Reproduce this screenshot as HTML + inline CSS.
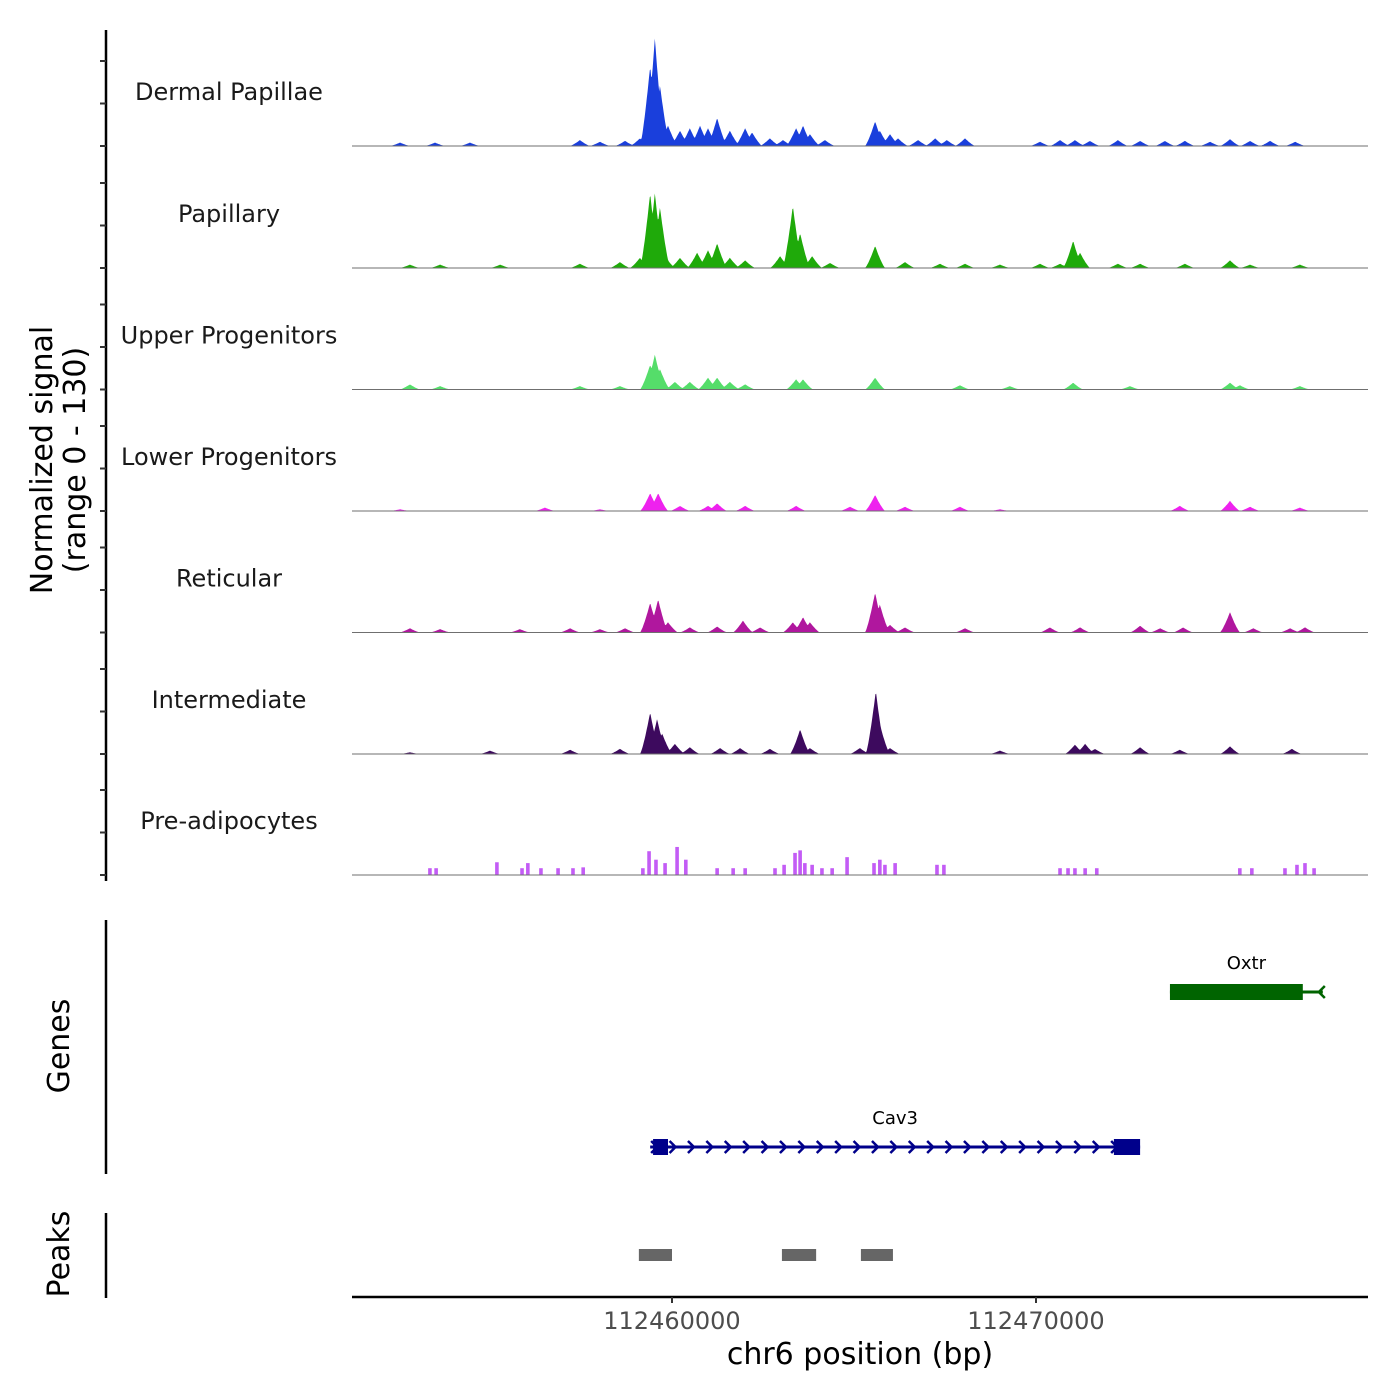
<!DOCTYPE html>
<html><head><meta charset="utf-8"><style>
html,body{margin:0;padding:0;background:#fff}
svg{display:block;font-family:"DejaVu Sans","Liberation Sans",sans-serif}
</style></head><body>
<svg id="chart" width="1400" height="1400" viewBox="0 0 1400 1400" xmlns="http://www.w3.org/2000/svg">
<rect width="1400" height="1400" fill="#fff"/>
<g id="tracks"></g>
<line x1="106" y1="30" x2="106" y2="881" stroke="#000" stroke-width="2.5"/>
<g id="yticks"></g>
<text transform="translate(52,460) rotate(-90)" text-anchor="middle" font-size="30" fill="#000">Normalized signal</text>
<text transform="translate(85,460) rotate(-90)" text-anchor="middle" font-size="30" fill="#000">(range 0 - 130)</text>
<line x1="106" y1="920" x2="106" y2="1174" stroke="#000" stroke-width="2.5"/>
<text transform="translate(69,1046) rotate(-90)" text-anchor="middle" font-size="30" fill="#000">Genes</text>
<g id="genes"></g>
<line x1="106" y1="1213" x2="106" y2="1298" stroke="#000" stroke-width="2.5"/>
<text transform="translate(69,1254) rotate(-90)" text-anchor="middle" font-size="30" fill="#000">Peaks</text>
<g id="peaks"></g>
<line x1="352" y1="1297" x2="1368" y2="1297" stroke="#000" stroke-width="2.5"/>
<g id="xticks"></g>
<text x="860" y="1364" text-anchor="middle" font-size="30" fill="#000">chr6 position (bp)</text>
</svg>
<script>
// positions in kb relative to 112,450,000
const trackNames = ["Dermal Papillae","Papillary","Upper Progenitors","Lower Progenitors","Reticular","Intermediate","Pre-adipocytes"];
const trackColors = ["#1a3fdc","#1faa0a","#55dd6a","#ee22ee","#b0179e","#3d0a5e","#c35cf5"];
const dermalPos = [2.53,3.49,4.45,7.47,8.02,8.71,9.12,9.40,9.53,9.67,9.89,10.22,10.49,10.77,10.99,11.24,11.59,12.01,12.20,12.69,13.05,13.41,13.60,13.79,14.20,15.58,15.71,15.99,16.21,16.76,17.23,17.55,18.05,20.11,20.66,21.07,21.48,22.25,22.86,23.54,24.09,24.78,25.33,25.88,26.43,27.12];
const dermalVal = [4,4,4,7,5,6,9,94,127,71,24,18,21,24,21,33,18,21,16,9,7,21,24,14,7,29,18,14,9,7,9,7,9,5,7,7,6,7,6,6,6,5,8,6,6,5];
const papillaryPos = [2.80,3.63,5.28,7.47,8.57,9.12,9.40,9.53,9.67,9.81,10.22,10.69,10.99,11.24,11.59,12.01,12.97,13.32,13.52,13.85,14.34,15.58,16.40,17.36,18.05,19.01,20.11,20.66,21.02,21.21,22.25,22.86,24.09,25.33,25.88,27.25];
const papillaryVal = [4,4,4,5,7,12,88,88,71,14,12,18,21,29,12,9,14,73,41,14,6,26,7,5,5,4,5,5,32,18,5,5,5,9,4,4];
const upperPos = [2.80,3.63,7.47,8.57,9.40,9.53,9.67,10.08,10.49,10.99,11.24,11.59,12.01,13.41,13.60,15.58,17.91,19.28,21.02,22.58,25.33,25.60,27.25];
const upperVal = [6,4,4,4,29,41,24,9,9,14,14,9,6,12,12,14,5,4,8,4,8,5,4];
const lowerPos = [2.53,6.51,8.02,9.40,9.62,10.22,10.99,11.24,12.01,13.41,14.89,15.58,16.40,17.91,19.01,23.95,25.33,25.88,27.25];
const lowerVal = [2,4,2,21,21,6,6,9,6,6,5,19,5,5,2,6,12,5,4];
const reticularPos = [2.80,3.63,5.82,7.20,8.02,8.71,9.40,9.62,9.89,10.49,11.24,11.95,12.42,13.32,13.60,13.79,15.58,15.71,15.99,16.40,18.05,20.38,21.21,22.86,23.41,24.04,25.33,25.97,26.98,27.39];
const reticularVal = [5,4,4,5,4,5,35,39,12,6,7,14,6,12,18,12,47,33,9,6,5,6,6,8,5,6,24,5,5,6];
const intermediatePos = [2.80,5.00,7.20,8.57,9.40,9.59,9.73,10.08,10.49,11.32,11.87,12.69,13.52,13.79,15.16,15.60,15.71,15.99,19.01,21.07,21.35,21.62,22.86,23.95,25.33,27.03];
const intermediateVal = [2,4,5,6,49,41,24,12,8,7,7,6,29,7,7,74,35,7,4,11,12,6,8,5,9,6];
const preadipoPos = [3.35,3.52,5.19,5.88,6.04,6.40,6.87,7.28,7.56,9.20,9.37,9.56,9.81,10.14,10.38,11.24,11.68,12.01,12.83,13.08,13.38,13.52,13.65,13.85,14.12,14.40,14.81,15.55,15.71,15.85,16.13,17.28,17.47,20.66,20.88,21.07,21.35,21.67,25.60,25.93,26.84,27.17,27.39,27.64];
const preadipoVal = [8,8,15,8,14,8,8,8,9,8,28,18,14,33,18,8,8,8,8,12,26,29,14,12,8,8,21,14,18,12,14,12,12,8,8,8,8,8,8,8,8,12,14,8];
const yTickVals = [0,50,100];
const xTickVals = [112460000,112470000];
const xTickLabels = ["112460000","112470000"];
const geneNames = ["Cav3","Oxtr"];
const geneStart = [9.40,23.68];
const geneEnd = [22.86,27.88];
const geneStrand = [1,-1];
const geneRow = [1,0];
const exonGene = [0,0,1];
const exonStart = [9.48,22.14,23.68];
const exonEnd = [9.89,22.86,27.33];
const peakStart = [9.09,13.02,15.19];
const peakEnd = [10.00,13.96,16.07];

const NS="http://www.w3.org/2000/svg";
const X0=352,X1=1368,KB0=1.209,KB1=29.121;
function xs(kb){return X0+(kb-KB0)/(KB1-KB0)*(X1-X0);}
const yMax=130,trackPix=110.5;
const baselines=[146,268,389.5,511,632.5,754,875];
function ys(v,b){return b-v/yMax*trackPix;}
function mk(tag,attrs,parent){const e=document.createElementNS(NS,tag);for(const k in attrs)e.setAttribute(k,attrs[k]);parent.appendChild(e);return e;}

const posArr=[dermalPos,papillaryPos,upperPos,lowerPos,reticularPos,intermediatePos,preadipoPos];
const valArr=[dermalVal,papillaryVal,upperVal,lowerVal,reticularVal,intermediateVal,preadipoVal];
const tg=document.getElementById('tracks');
const yt=document.getElementById('yticks');
trackNames.forEach((name,i)=>{
  const b=baselines[i];
  const g=mk('g',{},tg);
  
  
  const lab=mk('text',{x:229,y:b-46,'text-anchor':'middle','font-size':24,fill:'#1a1a1a'},g);
  lab.textContent=name;
  
  
  const P=posArr[i],V=valArr[i];
  if(i===6){
    P.forEach((p,j)=>{
      const r=mk('rect',{x:xs(p)-1.8,y:ys(V[j],b),width:3.6,height:V[j]/yMax*trackPix,fill:trackColors[i]},g);
      
      
    });
  } else {
    const w=0.28,step=0.02;
    let d='M'+X0+','+b;
    for(let k=KB0;k<=KB1;k+=step){
      let v=0;
      for(let j=0;j<P.length;j++){const t=1-Math.abs(k-P[j])/w;if(t>0)v=Math.max(v,V[j]*Math.pow(t,1.3));}
      d+=' L'+xs(k).toFixed(1)+','+ys(v,b).toFixed(1);
    }
    d+=' L'+X1+','+b+' Z';
    const a=mk('path',{d:d,fill:trackColors[i]},g);
    
    
  }
  const bl=mk('line',{x1:X0,y1:b,x2:X1,y2:b,stroke:'#6f6f6f','stroke-width':1},g);
  
  
  yTickVals.forEach(v=>{
    const y=ys(v,b);
    const t=mk('line',{x1:100,y1:y,x2:106,y2:y,stroke:'#333','stroke-width':2},yt);
    
    
  });
});

// x ticks
const xg=document.getElementById('xticks');
xTickVals.forEach((v,i)=>{
  const x=xs((v-112450000)/1000);
  const t=mk('line',{x1:x,y1:1297,x2:x,y2:1303,stroke:'#333','stroke-width':2},xg);
  
  
  const l=mk('text',{x:x,y:1329,'text-anchor':'middle','font-size':24,fill:'#4d4d4d'},xg);
  l.textContent=xTickLabels[i];
  
  
});

// genes
const gg=document.getElementById('genes');
const rowY=[992,1147];
const geneColors=["#00008b","#006400"];
geneNames.forEach((n,i)=>{
  const y=rowY[geneRow[i]],c=geneColors[i];
  const g=mk('g',{},gg);
  
  
  const x1=xs(geneStart[i]),x2=xs(geneEnd[i]);
  mk('line',{x1:x1,y1:y,x2:x2,y2:y,stroke:c,'stroke-width':3},g);
  const dir=geneStrand[i];
  if(dir>0){
    for(let x=x1+4;x<x2-4;x+=18.4){
      mk('path',{d:`M${x-3},${y-6} L${x+3},${y} L${x-3},${y+6}`,stroke:c,'stroke-width':2.5,fill:'none'},g);
    }
  } else {
    mk('path',{d:`M${x2+2},${y-6} L${x2-4},${y} L${x2+2},${y+6}`,stroke:c,'stroke-width':2.5,fill:'none'},g);
  }
  exonGene.forEach((gi,j)=>{
    if(gi!==i)return;
    const e=mk('rect',{x:xs(exonStart[j]),y:y-8,width:xs(exonEnd[j])-xs(exonStart[j]),height:16,fill:c},g);
    
    
  });
  const lab=mk('text',{x:(x1+x2)/2,y:y-23,'text-anchor':'middle','font-size':18,fill:'#000'},g);
  lab.textContent=n;
  
  
});

// peaks
const pg=document.getElementById('peaks');
peakStart.forEach((s,i)=>{
  const r=mk('rect',{x:xs(s),y:1249,width:xs(peakEnd[i])-xs(s),height:12,fill:'#666'},pg);
  
  
});
</script>
</body></html>
